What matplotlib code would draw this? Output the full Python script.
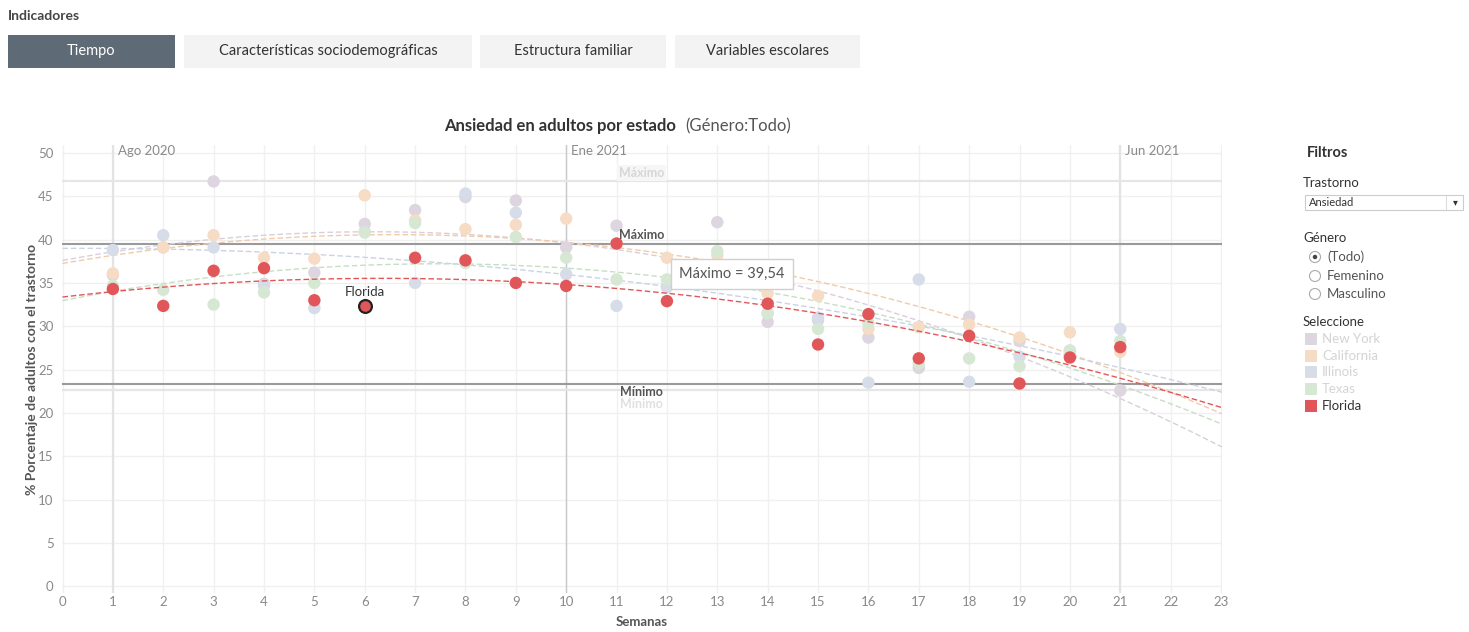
import numpy as np
import matplotlib
matplotlib.use("Agg")
import matplotlib.pyplot as plt
from matplotlib.patches import Rectangle, Ellipse

plt.rcParams['font.family'] = ['Lato', 'DejaVu Sans']

# ---------------- data ----------------
weeks = list(range(1, 22))
states = ["New York", "California", "Illinois", "Texas", "Florida"]
new_york = [35.9, 39.1, 46.7, 34.9, 36.2, 41.8, 43.4, 44.9, 44.5, 39.1, 41.6, 34.5, 42.0, 30.5, 30.7, 28.7, 25.2, 31.1, 28.3, 27.0, 22.6]
california = [36.1, 39.1, 40.5, 37.9, 37.8, 45.1, 42.2, 41.2, 41.7, 42.4, 39.5, 37.9, 38.2, 33.8, 33.5, 29.7, 29.9, 30.2, 28.7, 29.3, 27.05]
illinois = [38.8, 40.5, 39.1, 34.7, 32.1, 40.9, 35.0, 45.3, 43.1, 36.0, 32.35, 34.6, 36.0, 31.5, 31.0, 23.5, 35.4, 23.6, 26.5, 27.2, 29.7]
texas = [34.65, 34.2, 32.5, 33.9, 35.0, 40.8, 41.9, 37.3, 40.3, 37.9, 35.4, 35.4, 38.65, 31.5, 29.7, 30.4, 25.7, 26.3, 25.4, 27.2, 28.3]
florida_weeks = [1, 2, 3, 4, 5, 6, 7, 8, 9, 10, 11, 12, 14, 15, 16, 17, 18, 19, 20, 21]
florida = [34.3, 32.35, 36.4, 36.7, 33.0, 32.35, 37.9, 37.6, 35.0, 34.65, 39.54, 32.9, 32.6, 27.9, 31.4, 26.3, 28.9, 23.4, 26.4, 27.6]
x_ticks = list(range(0, 24))
y_ticks = list(range(0, 51, 5))
date_marks = [1, 10, 21]
date_labels = ["Ago 2020", "Ene 2021", "Jun 2021"]
buttons = ["Tiempo", "Características sociodemográficas", "Estructura familiar", "Variables escolares"]
generos = ["(Todo)", "Femenino", "Masculino"]

point_colors = ["#ddd5e0", "#f6dcc4", "#d6dde8", "#d6e8d3", "#e15759"]
line_colors = ["#d9cfdc", "#f2caa8", "#c9d3e3", "#c6dfc3", "#e15759"]

# ---------------- figure ----------------
W, H = 1469, 632
fig = plt.figure(figsize=(W / 100, H / 100), dpi=100)
fig.patch.set_facecolor("white")

def fx(px):
    return px / W

def fy(py):
    return 1 - py / H

ax = fig.add_axes([fx(62), fy(593), fx(1222) - fx(62), fy(145) - fy(593)])
ax.set_xlim(-0.01, 23.02)
ax.set_ylim(-0.75, 50.9)
for s in ax.spines.values():
    s.set_visible(False)
ax.set_xticks(x_ticks)
ax.set_yticks(y_ticks)
ax.tick_params(axis="both", length=0, labelsize=9.5, labelcolor="#8a8a8a")
ax.tick_params(axis="x", pad=2)
ax.tick_params(axis="y", pad=6)
ax.grid(True, color="#f0f0f0", lw=1.0, zorder=0)
ax.set_axisbelow(True)

# date reference lines
for xm, lab, lw, col in zip(date_marks, date_labels, [1.6, 1.0, 1.6], ["#e3e3e3", "#c8c8c8", "#e3e3e3"]):
    ax.axvline(xm, color=col, lw=lw, zorder=1)
    ax.text(xm + 0.1, 50.2, lab, fontsize=9.5, color="#8a8a8a", ha="left", va="center")

# reference lines (faint, other series)
ny_max, ny_min = max(new_york), min(new_york)
ax.axhline(ny_max, color="#e6e6e6", lw=1.6, zorder=1)
ax.axhline(ny_min, color="#e6e6e6", lw=1.6, zorder=1)
ax.text(11.5, ny_max + 1.0, "Máximo", fontsize=9, fontweight="bold", color="#d6d6d6", ha="center", va="center",
        bbox=dict(boxstyle="square,pad=0.15", fc="#f6f6f6", ec="none"))
ax.text(11.5, ny_min - 1.6, "Mínimo", fontsize=9, fontweight="bold", color="#e0e0e0", ha="center", va="center")

# Florida max/min lines
fl_max, fl_min = max(florida), min(florida)
ax.axhline(fl_max, color="#9a9a9a", lw=1.5, zorder=2)
ax.axhline(fl_min, color="#9a9a9a", lw=1.5, zorder=2)
ax.text(11.5, fl_max + 0.95, "Máximo", fontsize=9, fontweight="bold", color="#555555", ha="center", va="center", zorder=6)
ax.text(11.5, fl_min - 1.0, "Mínimo", fontsize=9, fontweight="bold", color="#555555", ha="center", va="center", zorder=6)

# trend lines + points
xs = np.linspace(0, 23.02, 200)
series = [(weeks, new_york), (weeks, california), (weeks, illinois), (weeks, texas), (florida_weeks, florida)]
for i, (wx, vals) in enumerate(series):
    coef = np.polyfit(wx, vals, 2)
    ax.plot(xs, np.polyval(coef, xs), ls=(0, (4, 2)), lw=1.0, color=line_colors[i], zorder=3 + (i == 4) * 2)
for i, (wx, vals) in enumerate(series):
    ax.scatter(wx, vals, s=80, color=point_colors[i], edgecolors="none", zorder=4 + (i == 4) * 3)

# highlighted Florida point
hi = florida_weeks.index(6)
ax.scatter([florida_weeks[hi]], [florida[hi]], s=85, color="#e15759", edgecolors="#222222", linewidths=1.6, zorder=9)
ax.annotate("Florida", (florida_weeks[hi], florida[hi]), xytext=(0, 6), textcoords="offset points",
            ha="center", va="bottom", fontsize=9.5, color="#333333", zorder=9)

# tooltip
imax = florida.index(fl_max)
ax.annotate("Máximo = " + f"{fl_max:.2f}".replace(".", ","), (florida_weeks[imax], fl_max),
            xytext=(83, -22), textcoords="offset points", ha="center", va="center",
            fontsize=10.5, color="#555555", zorder=10,
            bbox=dict(boxstyle="square,pad=0.55", fc="white", ec="#d0d0d0", lw=1))

ax.set_xlabel("Semanas", fontsize=9.5, fontweight="bold", color="#555555", labelpad=6)
ax.set_ylabel("% Porcentaje de adultos con el trastorno", fontsize=10, fontweight="bold", color="#555555", labelpad=0)

# title
fig.text(fx(444), fy(126), "Ansiedad en adultos por estado", fontsize=12, fontweight="bold", color="#333333",
         ha="left", va="center")
fig.text(fx(685), fy(126), "(Género:Todo)", fontsize=12, color="#555555", ha="left", va="center")

# top UI
fig.text(fx(8), fy(16), "Indicadores", fontsize=10, fontweight="bold", color="#444444", ha="left", va="center")
btn_boxes = [(8, 175), (184, 472), (480, 666), (675, 860)]
for (x0, x1), lab, k in zip(btn_boxes, buttons, range(4)):
    fc = "#5f6a77" if k == 0 else "#f3f3f3"
    tc = "white" if k == 0 else "#333333"
    fig.patches.append(Rectangle((fx(x0), fy(68)), fx(x1) - fx(x0), fy(35) - fy(68),
                                 transform=fig.transFigure, fc=fc, ec="none"))
    fig.text(fx((x0 + x1) / 2), fy(51), lab, fontsize=10.5, color=tc, ha="center", va="center")

# right panel
fig.text(fx(1307), fy(153), "Filtros", fontsize=10.5, fontweight="bold", color="#333333", ha="left", va="center")
fig.text(fx(1303), fy(183), "Trastorno", fontsize=9.5, color="#333333", ha="left", va="center")
fig.patches.append(Rectangle((fx(1305), fy(210)), fx(1463) - fx(1305), fy(195) - fy(210),
                             transform=fig.transFigure, fc="white", ec="#cccccc", lw=0.8))
fig.text(fx(1309), fy(202.5), "Ansiedad", fontsize=8, color="#333333", ha="left", va="center")
fig.text(fx(1455), fy(202.5), "▾", fontsize=7, color="#333333", ha="center", va="center")
fig.lines.append(plt.Line2D([fx(1446), fx(1446)], [fy(196), fy(209)], transform=fig.transFigure, color="#dddddd", lw=0.8))
fig.text(fx(1303), fy(238), "Género", fontsize=9.5, color="#333333", ha="left", va="center")
for k, (lab, py) in enumerate(zip(generos, [257, 276, 294])):
    fig.patches.append(Ellipse((fx(1315), fy(py)), 11 / W, 11 / H, transform=fig.transFigure,
                               fc="white", ec="#aaaaaa", lw=0.8))
    if k == 0:
        fig.patches.append(Ellipse((fx(1315), fy(py)), 4.5 / W, 4.5 / H, transform=fig.transFigure,
                                   fc="#444444", ec="none"))
    fig.text(fx(1327), fy(py), lab, fontsize=9.5, color="#555555", ha="left", va="center")
fig.text(fx(1303), fy(322), "Seleccione", fontsize=9.5, color="#333333", ha="left", va="center")
for k, (st, py) in enumerate(zip(states, [339, 356, 372, 389, 406])):
    fig.patches.append(Rectangle((fx(1305), fy(py + 6)), 12 / W, 12 / H, transform=fig.transFigure,
                                 fc=point_colors[k], ec="none"))
    fig.text(fx(1322), fy(py), st, fontsize=9.5, color="#333333" if k == 4 else "#d4d4d4", ha="left", va="center")

fig.savefig("out.png", dpi=100)
